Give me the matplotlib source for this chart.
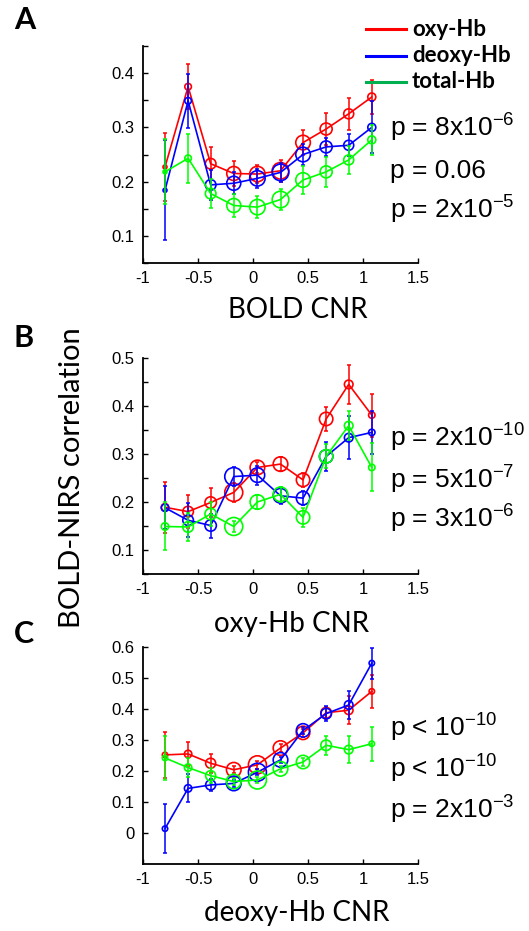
import numpy as np
import matplotlib
matplotlib.use('Agg')
import matplotlib.pyplot as plt
from matplotlib.lines import Line2D

plt.rcParams['font.family'] = ['Liberation Sans', 'DejaVu Sans']
plt.rcParams['axes.unicode_minus'] = False
plt.rcParams['mathtext.fontset'] = 'custom'
plt.rcParams['mathtext.rm'] = 'Liberation Sans'
plt.rcParams['mathtext.default'] = 'regular'

# bin centres (CNR), same in all three panels
cnr = [-0.8, -0.59, -0.385, -0.175, 0.04, 0.25, 0.455, 0.665, 0.87, 1.08]

# A: binned by BOLD CNR
a_oxy = [0.227, 0.375, 0.233, 0.215, 0.214, 0.220, 0.272, 0.297, 0.325, 0.356]
a_oxy_err = [0.062, 0.041, 0.030, 0.023, 0.016, 0.020, 0.023, 0.030, 0.030, 0.032]
a_deoxy = [0.184, 0.349, 0.194, 0.197, 0.206, 0.217, 0.250, 0.264, 0.267, 0.300]
a_deoxy_err = [0.092, 0.050, 0.027, 0.020, 0.018, 0.017, 0.020, 0.017, 0.020, 0.048]
a_total = [0.218, 0.243, 0.178, 0.156, 0.153, 0.167, 0.203, 0.218, 0.240, 0.277]
a_total_err = [0.060, 0.045, 0.027, 0.022, 0.020, 0.020, 0.025, 0.028, 0.026, 0.028]
a_n = [2, 3.3, 5.3, 7, 7.7, 8.3, 7.3, 6, 5, 4]
a_p = ['p = 8x10$^{-6}$', 'p = 0.06', 'p = 2x10$^{-5}$']

# B: binned by oxy-Hb CNR
b_oxy = [0.189, 0.180, 0.199, 0.220, 0.272, 0.279, 0.246, 0.373, 0.445, 0.381]
b_oxy_err = [0.053, 0.035, 0.030, 0.020, 0.012, 0.015, 0.015, 0.025, 0.040, 0.045]
b_deoxy = [0.188, 0.162, 0.151, 0.253, 0.256, 0.213, 0.208, 0.295, 0.334, 0.345]
b_deoxy_err = [0.045, 0.035, 0.025, 0.020, 0.020, 0.018, 0.015, 0.030, 0.045, 0.045]
b_total = [0.149, 0.148, 0.175, 0.149, 0.200, 0.216, 0.168, 0.295, 0.359, 0.272]
b_total_err = [0.050, 0.030, 0.025, 0.012, 0.015, 0.015, 0.020, 0.025, 0.030, 0.050]
b_n = [3.7, 5.3, 5.7, 9, 7.3, 7.3, 6.7, 6.7, 4.3, 3.2]
b_p = ['p = 2x10$^{-10}$', 'p = 5x10$^{-7}$', 'p = 3x10$^{-6}$']

# C: binned by deoxy-Hb CNR
c_oxy = [0.252, 0.255, 0.225, 0.204, 0.220, 0.274, 0.323, 0.388, 0.396, 0.457]
c_oxy_err = [0.075, 0.040, 0.030, 0.012, 0.012, 0.012, 0.012, 0.020, 0.045, 0.054]
c_deoxy = [0.014, 0.144, 0.155, 0.160, 0.196, 0.236, 0.331, 0.385, 0.413, 0.548]
c_deoxy_err = [0.080, 0.045, 0.020, 0.010, 0.010, 0.010, 0.012, 0.025, 0.045, 0.050]
c_total = [0.242, 0.211, 0.185, 0.166, 0.171, 0.207, 0.229, 0.283, 0.269, 0.288]
c_total_err = [0.070, 0.030, 0.025, 0.010, 0.010, 0.010, 0.012, 0.030, 0.043, 0.055]
c_n = [2.7, 3.7, 5, 7.3, 9, 7.3, 6.7, 5.3, 4.3, 2.7]
c_p = ['p < 10$^{-10}$', 'p < 10$^{-10}$', 'p = 2x10$^{-3}$']

W, H = 529, 931
RED, BLUE, GREEN = '#ff0000', '#0000ff', '#00ff00'

fig = plt.figure(figsize=(W / 100, H / 100), dpi=100)


def px(x, y):
    return x / W, 1 - y / H


def panel(top, bottom, series, sizes, ylim, yticks, minor, xlabel, xlab_pos,
          pvals, p_base, letter, letter_y):
    ax = fig.add_axes([143 / W, 1 - bottom / H, 275 / W, (bottom - top) / H])
    z = 2
    for y, e, c in series:
        ax.errorbar(cnr, y, yerr=e, color=c, lw=1.2, elinewidth=1.1,
                    capsize=1.6, capthick=1.1, zorder=z)
        ax.scatter(cnr, y, s=[(1.44 * r) ** 2 for r in sizes], facecolors='none',
                   edgecolors=c, linewidths=1.2, zorder=z + 0.5)
        z += 1
    ax.set_xlim(-1, 1.5)
    ax.set_ylim(*ylim)
    ax.set_xticks([-1, -0.5, 0, 0.5, 1, 1.5])
    ax.set_xticklabels(['-1', '-0.5', '0', '0.5', '1', '1.5'])
    ax.set_yticks(yticks)
    ax.set_yticklabels(['%g' % t for t in yticks])
    if minor:
        ax.set_yticks(minor, minor=True)
    for s in ['top', 'right']:
        ax.spines[s].set_visible(False)
    for s in ['left', 'bottom']:
        ax.spines[s].set_linewidth(1.3)
    ax.tick_params(which='both', direction='in', length=3.5, width=1, labelsize=12, pad=6)
    ax.patch.set_alpha(0)
    fig.text(*px(*xlab_pos), xlabel, fontsize=20, family='Lato',
             ha='center', va='baseline')
    for t, b in zip(pvals, p_base):
        fig.text(*px(390, b), t, fontsize=19, ha='left', va='baseline')
    fig.text(*px(14, letter_y), letter, fontsize=22, family='Lato', fontweight='bold',
             ha='left', va='center')
    return ax


panel(46, 263, [(a_oxy, a_oxy_err, RED), (a_deoxy, a_deoxy_err, BLUE), (a_total, a_total_err, GREEN)],
      a_n, (0.05, 0.45), [0.1, 0.2, 0.3, 0.4], [0.05, 0.15, 0.25, 0.35, 0.45],
      'BOLD CNR', (298, 318), a_p, [137, 178, 219], 'A', 20)
panel(358, 574, [(b_oxy, b_oxy_err, RED), (b_deoxy, b_deoxy_err, BLUE), (b_total, b_total_err, GREEN)],
      b_n, (0.05, 0.5), [0.1, 0.2, 0.3, 0.4, 0.5], [0.05, 0.15, 0.25, 0.35, 0.45],
      'oxy-Hb CNR', (292, 632), b_p, [447, 489, 528], 'B', 338)
panel(647, 864, [(c_oxy, c_oxy_err, RED), (c_deoxy, c_deoxy_err, BLUE), (c_total, c_total_err, GREEN)],
      c_n, (-0.1, 0.6), [0, 0.1, 0.2, 0.3, 0.4, 0.5, 0.6], None,
      'deoxy-Hb CNR', (297, 921), c_p, [737, 778, 819], 'C', 634)

fig.text(*px(80, 478), 'BOLD-NIRS correlation', fontsize=21, family='Lato',
         rotation=90, rotation_mode='anchor', ha='center', va='baseline')

# legend
for i, (name, c) in enumerate([('oxy-Hb', RED), ('deoxy-Hb', BLUE), ('total-Hb', '#00b050')]):
    yy = 29 + 26.5 * i
    fig.add_artist(Line2D([366 / W, 406 / W], [1 - yy / H, 1 - yy / H], color=c, lw=2.2))
    fig.text(*px(412, yy), name, fontsize=16, family='Lato', fontweight='bold',
             ha='left', va='center')

fig.savefig('out.png', dpi=100)
